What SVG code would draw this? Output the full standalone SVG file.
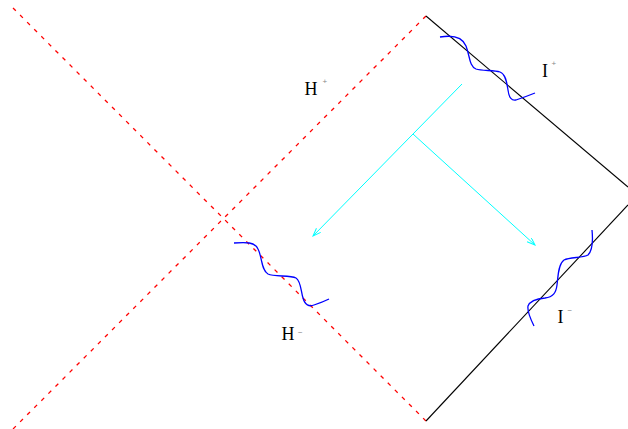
<svg xmlns="http://www.w3.org/2000/svg" width="628" height="429" viewBox="0 0 628 429">
<style>
.scri{stroke:#000;stroke-width:1.1;fill:none}
.wave{stroke:#0000ff;stroke-width:1.3;fill:none}
.ray{stroke:#00ffff;stroke-width:1;fill:none;marker-end:url(#ah)}
.lbl{font-family:"Liberation Serif",serif;font-size:18px;fill:#000}
.sup{font-family:"Liberation Sans",sans-serif;font-size:8px;fill:#888}
</style>
<defs>
<marker id="ah" markerUnits="userSpaceOnUse" markerWidth="10" markerHeight="8" refX="8" refY="3" orient="auto">
<path d="M0,0 L8,3 L0,6" stroke="#00ffff" stroke-width="1" fill="none"/>
</marker>
</defs>
<g id="horizons" stroke="#ff0000" stroke-width="1.3" stroke-dasharray="4 6" fill="none">
<line x1="13" y1="8" x2="426" y2="421"/>
<line x1="426" y1="16" x2="13" y2="429"/>
</g>
<g id="scri-plus"><line class="scri" x1="426" y1="16" x2="628" y2="187"/></g>
<g id="scri-minus"><line class="scri" x1="426" y1="421" x2="628" y2="205"/></g>
<g id="wave-top"><path class="wave" d="M440,37 C452,35 462,36 466,46 C470,56 469,66 476,69 C482,71 494,70 500,72 C506,74 507,84 508,90 C509,98 512,101 516,100 C522,98 530,95 535,93"/></g>
<g id="wave-left"><path class="wave" d="M234,243 C246,242 255,242 258,249 C262,256 261,270 268,274 C274,277 290,275 296,278 C301,281 301,292 303,298 C305,305 309,307 314,305 C320,303 325,301 329,299"/></g>
<g id="wave-right"><path class="wave" d="M592,230 C593,240 593,250 588,255 C583,258 570,257 564,260 C558,264 558,278 557,285 C556,293 553,297 545,298 C535,299 530,301 528,306 C527,312 531,320 534,326"/></g>
<g id="connectors">
<line class="ray" x1="462" y1="84" x2="313" y2="236"/>
<line class="ray" x1="413" y1="134" x2="535" y2="245"/>
</g>
<g id="label-Hplus"><text class="lbl" x="304.5" y="94.5">H</text><text class="sup" x="322.5" y="83.5">+</text></g>
<g id="label-Iplus"><text class="lbl" x="542" y="76.5">I</text><text class="sup" x="551.5" y="66">+</text></g>
<g id="label-Hminus"><text class="lbl" x="281.5" y="340">H</text><text class="sup" x="298" y="334.5">−</text></g>
<g id="label-Iminus"><text class="lbl" x="557.5" y="322.5">I</text><text class="sup" x="567.5" y="313">−</text></g>
</svg>
